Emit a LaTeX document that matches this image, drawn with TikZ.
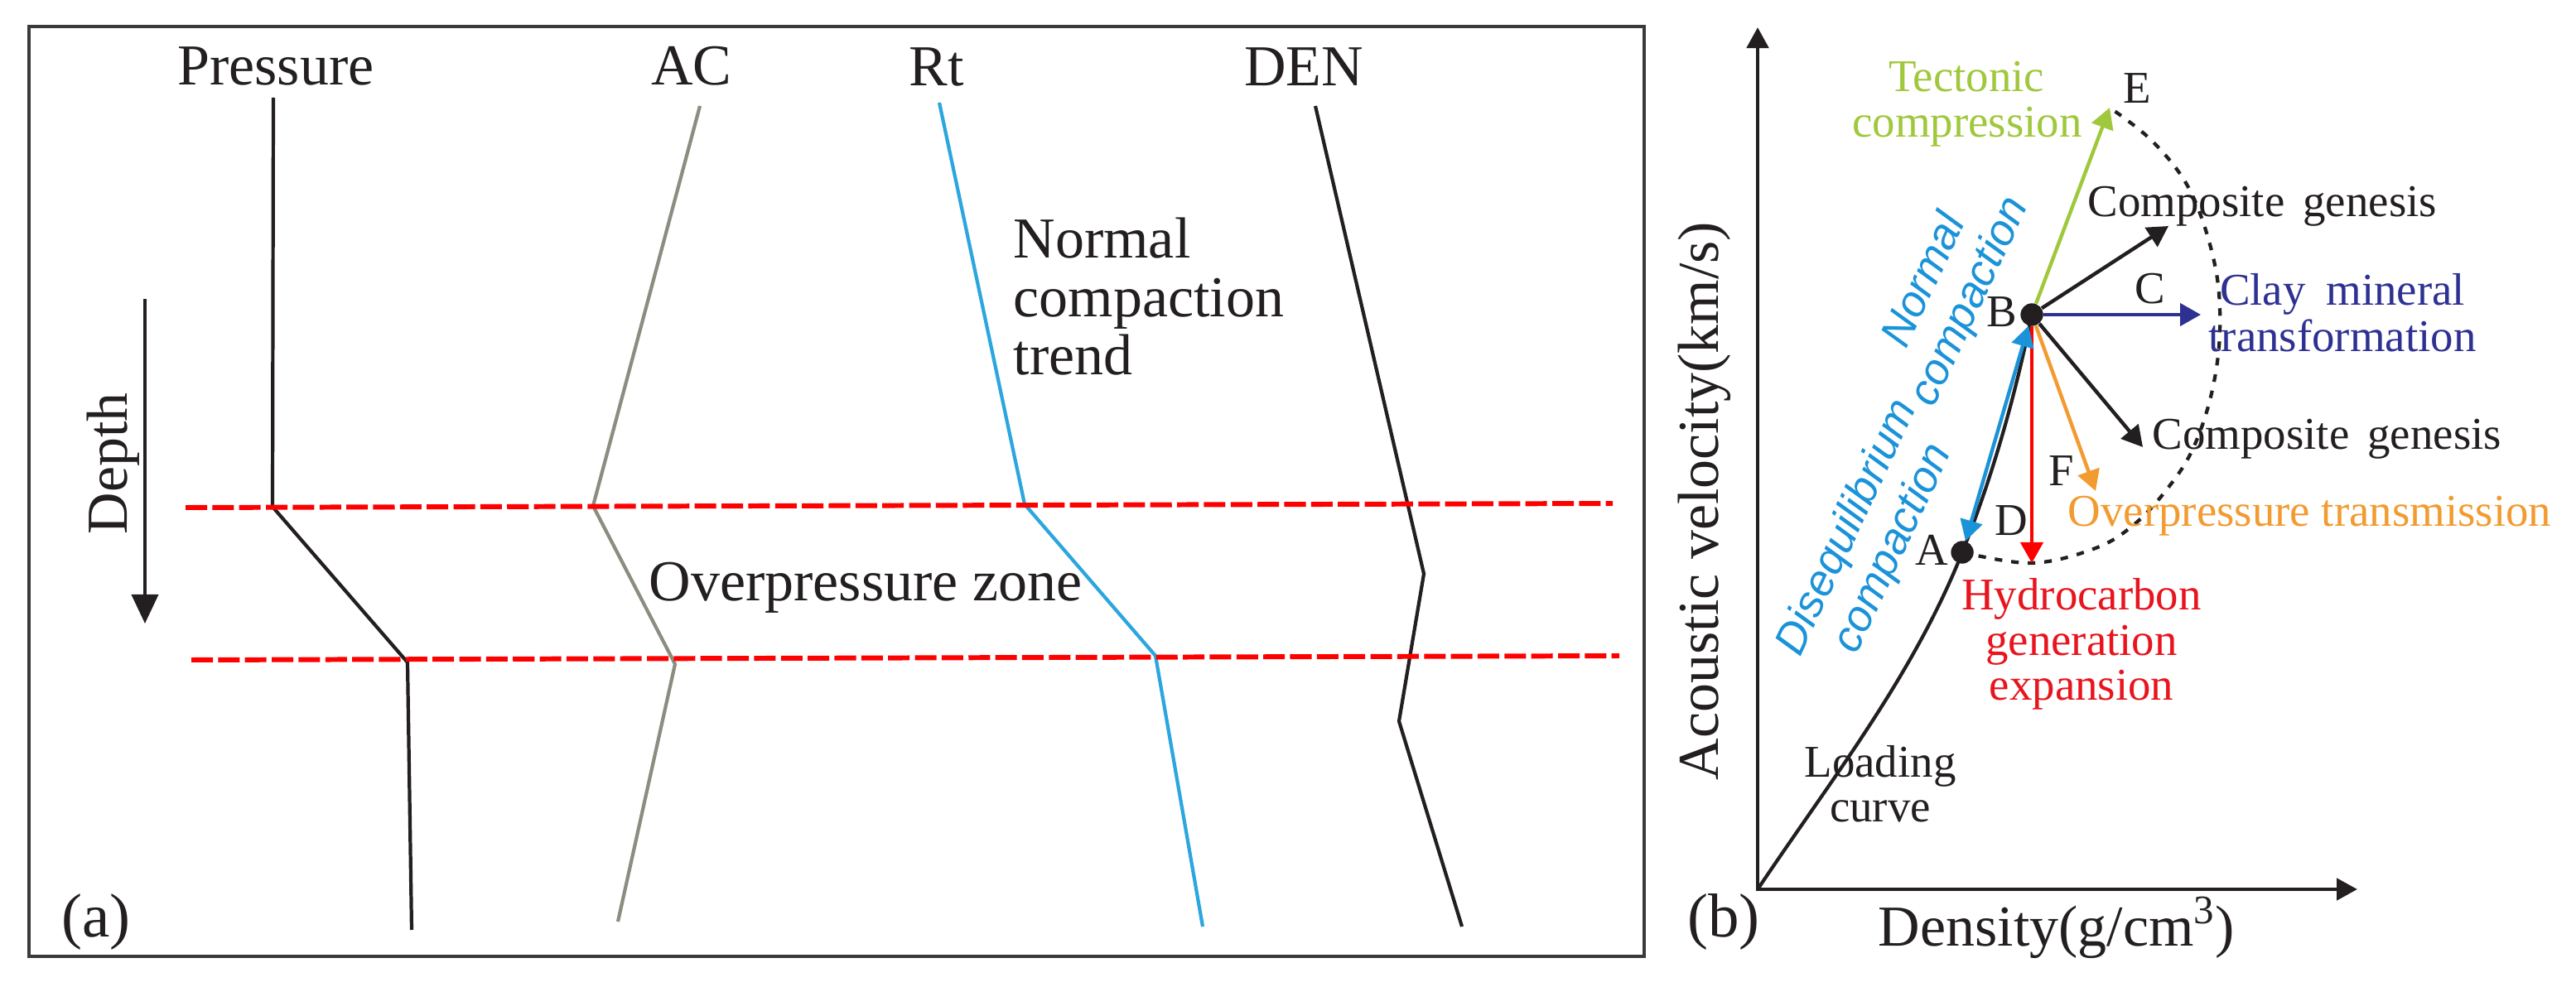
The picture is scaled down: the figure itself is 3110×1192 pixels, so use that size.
\documentclass[tikz,border=0pt]{standalone}
\usepackage{fontspec}
\setmainfont{Liberation Serif}
\newfontfamily\bsans{Liberation Sans}
\usetikzlibrary{arrows.meta}
\definecolor{frameg}{HTML}{3A3A3A}
\definecolor{acg}{HTML}{8C8D80}
\definecolor{rtb}{HTML}{2BA6DE}
\definecolor{dkb}{HTML}{231F20}
\definecolor{ncb}{HTML}{1B93D9}
\definecolor{tgreen}{HTML}{A0C83C}
\definecolor{navyb}{HTML}{2E3192}
\definecolor{orng}{HTML}{F29B30}
\definecolor{hred}{HTML}{E8141E}
\newcommand\myfa{\fontsize{19.9}{24}\selectfont}
\newcommand\myfb{\fontsize{15.6}{19}\selectfont}
\newcommand\myfc{\fontsize{21.3}{25}\selectfont}
\newcommand\myfd{\fontsize{15.1}{17.1}\selectfont\bsans\itshape}
\begin{document}
\begin{tikzpicture}[x=0.01cm,y=-0.01cm,
  lab/.style={inner sep=0pt, font=\myfa, text=dkb},
  labb/.style={inner sep=0pt, font=\myfb, text=dkb},
  bluetxt/.style={inner sep=0pt, font=\myfd, text=ncb, align=center},
  logline/.style={line width=1.2pt, line join=round},
  reddash/.style={draw=red, line width=1.7pt, dash pattern=on 7.4pt off 1.8pt},
  tipb/.style={-{Triangle[length=0.25cm,width=0.27cm]}},
  arr/.style={line width=1.25pt, tipb},
  dotc/.style={circle, fill=dkb, inner sep=0pt, minimum size=0.27cm},
  arcdash/.style={draw=dkb, line width=1.2pt, dash pattern=on 2.6pt off 3.1pt}
]
\useasboundingbox (0,0) rectangle (3110,1192);
\fill[white] (0,0) rectangle (3110,1192);

% ---------------- panel (a) ----------------
\draw[frameg, line width=1.2pt] (35,32) rectangle (1985,1155);

\node[lab, anchor=base] (tP) at (333,103) {Pressure};
\node[lab, anchor=base] (tAC) at (835,103) {AC};
\node[lab, anchor=base] (tRt) at (1131,104) {Rt};
\node[lab, anchor=base] (tDEN) at (1574,104) {DEN};
\node[lab, anchor=base west] (nct1) at (1223,312) {Normal};
\node[lab, anchor=base west] (nct2) at (1223,383) {compaction};
\node[lab, anchor=base west] (nct3) at (1223,453) {trend};
\node[lab, anchor=base west] (opz) at (783,726) {Overpressure zone};
\node[lab, font=\myfc, anchor=base] (ta) at (116,1131) {(a)};
\node[lab, rotate=90, anchor=base] (tdepth) at (153,560) {Depth};

\coordinate (d1) at (175,361);
\coordinate (d2) at (175,753);
\draw[dkb, line width=1.1pt, -{Triangle[length=0.35cm,width=0.32cm]}] (d1) -- (d2);

% log curves
\coordinate (p1) at (330,118); \coordinate (p2) at (329,612);
\coordinate (p3) at (492,800); \coordinate (p4) at (497,1123);
\draw[logline, dkb] (p1) -- (p2) -- (p3) -- (p4);

\coordinate (a1) at (845,128); \coordinate (a2) at (716,611);
\coordinate (a3) at (815,802); \coordinate (a4) at (746,1113);
\draw[logline, acg] (a1) -- (a2) -- (a3) -- (a4);

\coordinate (r1) at (1134,124); \coordinate (r2) at (1237,609);
\coordinate (r3) at (1395,792); \coordinate (r4) at (1452,1119);
\draw[logline, rtb] (r1) -- (r2) -- (r3) -- (r4);

\coordinate (n1) at (1588,128); \coordinate (n2) at (1719,693);
\coordinate (n3) at (1689,871); \coordinate (n4) at (1765,1119);
\draw[logline, dkb] (n1) -- (n2) -- (n3) -- (n4);

% red dashed boundaries
\coordinate (ra1) at (224,613); \coordinate (rb1) at (1947,608);
\coordinate (ra2) at (231,797); \coordinate (rb2) at (1955,792);
\draw[reddash] (ra1) -- (rb1);
\draw[reddash] (ra2) -- (rb2);

% ---------------- panel (b) ----------------
\coordinate (O) at (2122,1074);
\coordinate (ytip) at (2122,33);
\coordinate (xtip) at (2846,1074);
\draw[dkb, line width=1.4pt, line join=miter,
  {Triangle[length=0.25cm,width=0.26cm]}-{Triangle[length=0.25cm,width=0.26cm]}]
  (ytip) -- (O) -- (xtip);

\node[dotc] (A) at (2369,667) {};
\node[dotc] (B) at (2453,380) {};
\coordinate (E) at (2547,130);
\coordinate (cg1) at (2618,273);
\coordinate (Cc) at (2657,380);
\coordinate (cg2) at (2587,540);
\coordinate (Ff) at (2530,593);
\coordinate (Dd) at (2453,680);

% dotted envelope
\draw[arcdash] plot[smooth, tension=0.6] coordinates
  {(A.center) (2453,680) (2530,662) (2577,633) (2616,591) (2647,543)
   (2670,475) (2680,400) (2674,320) (2645,232) (2600,172) (E)};

% loading curve
\draw[dkb, line width=1.2pt] (O) .. controls (2211,941) and (2310,816) .. (A.center)
  .. controls (2406,574) and (2433,478) .. (B.center);

% arrows from B
\draw[arr, tgreen] (B) -- (E);
\draw[arr, dkb] (B) -- (cg1);
\draw[arr, navyb] (B) -- (Cc);
\draw[arr, dkb] (B) -- (cg2);
\draw[arr, orng] (B) -- (Ff);
\draw[arr, red] (B) -- (Dd);
\draw[ncb, line width=1.25pt,
  {Triangle[length=0.25cm,width=0.27cm]}-{Triangle[length=0.25cm,width=0.27cm]}]
  (A) -- (B);

\node[dotc] at (B.center) {};
\node[dotc] at (A.center) {};

% labels (b)
\node[labb, text=tgreen, anchor=base] (tc1) at (2374,111) {Tectonic};
\node[labb, text=tgreen, anchor=base] (tc2) at (2375,166) {compression};
\node[labb, anchor=base] (lE) at (2580,125) {E};
\node[labb, anchor=base west] (cgt1) at (2520,262) {Composite\hspace{0.4em}genesis};
\node[labb, anchor=base] (lC) at (2596,367) {C};
\node[labb, text=navyb, anchor=base] (cm1) at (2828,369) {Clay\hspace{0.45em}mineral};
\node[labb, text=navyb, anchor=base] (cm2) at (2828,425) {transformation};
\node[labb, anchor=base] (lB) at (2417,395) {B};
\node[labb, anchor=base west] (cgt2) at (2598,543) {Composite\hspace{0.4em}genesis};
\node[labb, anchor=base] (lF) at (2489,587) {F};
\node[labb, anchor=base] (lD) at (2428,647) {D};
\node[labb, text=orng, anchor=base west] (opt) at (2496,636) {Overpressure transmission};
\node[labb, anchor=base] (lA) at (2332,683) {A};
\node[labb, text=hred, anchor=base] (h1) at (2513,737) {Hydrocarbon};
\node[labb, text=hred, anchor=base] (h2) at (2513,791) {generation};
\node[labb, text=hred, anchor=base] (h3) at (2513,845) {expansion};
\node[labb, anchor=base] (lc1) at (2270,938) {Loading};
\node[labb, anchor=base] (lc2) at (2270,992) {curve};
\node[lab, font=\myfc, anchor=base] (tb) at (2081,1131) {(b)};
\node[lab, anchor=base] (tden) at (2483,1142) {Density(g/cm\textsuperscript{3})};
\node[lab, rotate=90, anchor=base] (tav) at (2074,605) {Acoustic velocity(km/s)};
\node[bluetxt, rotate=65] (ncl) at (2352,352) {Normal\\compaction};
\node[bluetxt, rotate=65] (dcl) at (2259,650) {Disequilibrium\\compaction};
\end{tikzpicture}
\end{document}
